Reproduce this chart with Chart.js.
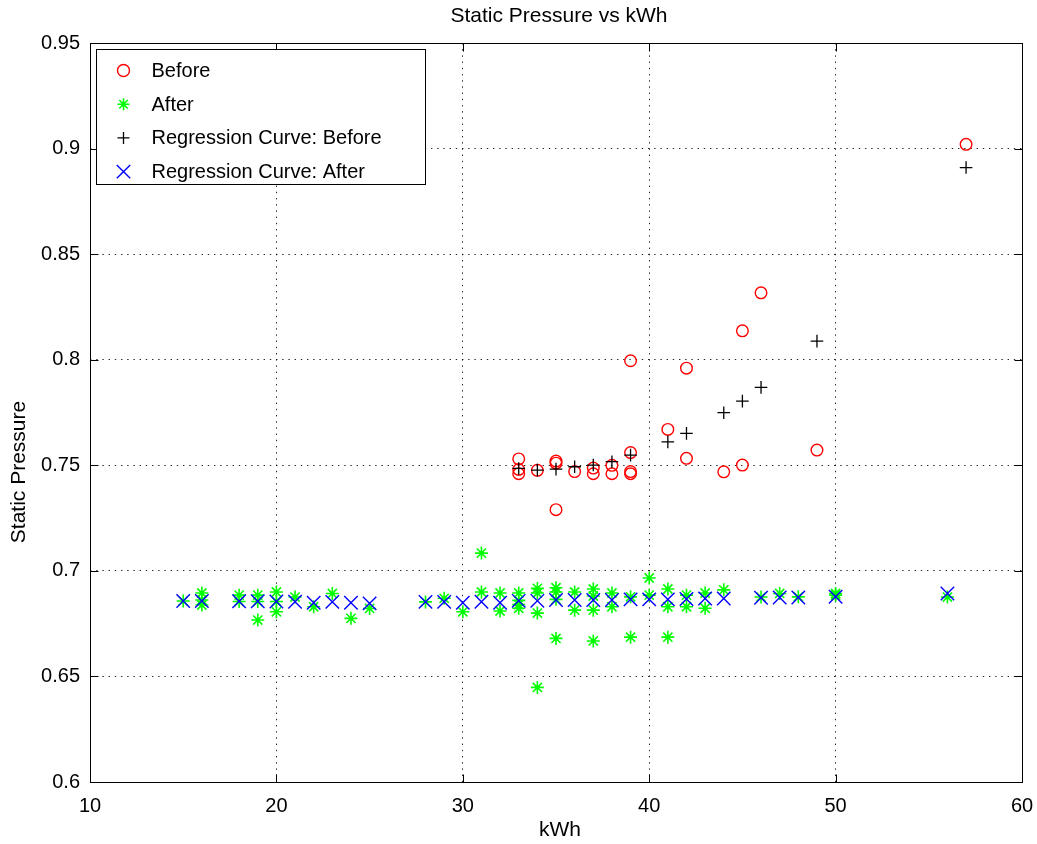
<!DOCTYPE html>
<html>
<head>
<meta charset="utf-8">
<title>Static Pressure vs kWh</title>
<script src="https://cdn.jsdelivr.net/npm/chart.js@4.4.1/dist/chart.umd.min.js"></script>
<style>
  html, body { margin: 0; padding: 0; background: #fff; }
  #wrap { width: 1037px; height: 844px; }
</style>
</head>
<body>
<div id="wrap"><canvas id="myChart" width="1037" height="844"></canvas></div>
<script>
// measured data: kWh vs static pressure
const kwhBefore = [33, 33, 33, 34, 35, 35, 35, 36, 37, 37, 38, 38, 39, 39, 39, 39, 41, 42, 42, 44, 45, 45, 46, 49, 57];
const spBefore = [0.753, 0.748, 0.746, 0.7476, 0.752, 0.751, 0.729, 0.747, 0.7487, 0.746, 0.75, 0.746, 0.7995, 0.756, 0.747, 0.746, 0.767, 0.796, 0.7533, 0.7469, 0.8137, 0.7501, 0.8317, 0.7572, 0.902];

const kwhAfter = [15, 16, 16, 16, 18, 18, 19, 19, 19, 20, 20, 20, 21, 22, 23, 24, 25, 28, 29, 30, 31, 31, 32, 32, 33, 33, 33, 33, 34, 34, 34, 34, 35, 35, 35, 35, 36, 36, 37, 37, 37, 37, 38, 38, 39, 39, 40, 40, 41, 41, 41, 42, 42, 43, 43, 44, 46, 47, 48, 50, 50, 56];
const spAfter = [0.6857, 0.6895, 0.6838, 0.6862, 0.6885, 0.6855, 0.6885, 0.6767, 0.6855, 0.69, 0.6855, 0.6806, 0.6876, 0.683, 0.6893, 0.6775, 0.6822, 0.6853, 0.687, 0.6806, 0.7084, 0.69, 0.6895, 0.681, 0.6895, 0.686, 0.684, 0.6823, 0.6917, 0.6895, 0.68, 0.6448, 0.692, 0.69, 0.6865, 0.668, 0.69, 0.6814, 0.6914, 0.6881, 0.6814, 0.6668, 0.6895, 0.683, 0.6877, 0.6686, 0.6966, 0.6885, 0.6914, 0.683, 0.6686, 0.6885, 0.683, 0.6895, 0.6823, 0.691, 0.6876, 0.6893, 0.6877, 0.6893, 0.6885, 0.6876];

const kwhRegBefore = [33, 34, 35, 36, 37, 38, 39, 41, 42, 44, 45, 46, 49, 57];
const spRegBefore = [0.7485, 0.7477, 0.7482, 0.7493, 0.7501, 0.7517, 0.7548, 0.7611, 0.7651, 0.7749, 0.7804, 0.7869, 0.8088, 0.891];

const kwhRegAfter = [15, 16, 18, 19, 20, 21, 22, 23, 24, 25, 28, 29, 30, 31, 32, 33, 34, 35, 36, 37, 38, 39, 40, 41, 42, 43, 44, 46, 47, 48, 50, 56];
const spRegAfter = [0.6857, 0.6857, 0.6856, 0.6856, 0.6855, 0.6854, 0.6849, 0.6853, 0.6849, 0.6846, 0.6853, 0.6853, 0.6849, 0.6854, 0.6849, 0.6858, 0.6858, 0.6862, 0.6862, 0.6862, 0.6862, 0.6865, 0.6865, 0.6865, 0.6867, 0.6869, 0.6869, 0.6873, 0.6874, 0.6874, 0.6877, 0.6893];

const xTicks = [10, 20, 30, 40, 50, 60];
const yTicks = [0.6, 0.65, 0.7, 0.75, 0.8, 0.85, 0.9, 0.95];

const FONT = '"Liberation Sans", Arial, Helvetica, sans-serif';

const toPoints = (xs, ys) => xs.map((x, i) => ({ x: x, y: ys[i] }));

// legend sample marks (not data)
function drawMark(ctx, style, x, y, r) {
  ctx.beginPath();
  if (style === "circle") {
    ctx.arc(x, y, r, 0, Math.PI * 2);
  } else if (style === "cross") {
    ctx.moveTo(x - r, y); ctx.lineTo(x + r, y);
    ctx.moveTo(x, y - r); ctx.lineTo(x, y + r);
  } else if (style === "crossRot") {
    const d = r * Math.SQRT1_2;
    ctx.moveTo(x - d, y - d); ctx.lineTo(x + d, y + d);
    ctx.moveTo(x - d, y + d); ctx.lineTo(x + d, y - d);
  } else if (style === "star") {
    const d = r * Math.SQRT1_2;
    ctx.moveTo(x - r, y); ctx.lineTo(x + r, y);
    ctx.moveTo(x, y - r); ctx.lineTo(x, y + r);
    ctx.moveTo(x - d, y - d); ctx.lineTo(x + d, y + d);
    ctx.moveTo(x - d, y + d); ctx.lineTo(x + d, y - d);
  }
  ctx.stroke();
}

const matlabFrame = {
  id: "matlabFrame",
  afterDraw(chart) {
    const ctx = chart.ctx;
    const a = chart.chartArea;
    const xs = chart.scales.x;
    const ys = chart.scales.y;
    ctx.save();

    // box
    ctx.strokeStyle = "#000";
    ctx.lineWidth = 1;
    const L = Math.round(a.left) + 0.5, R = Math.round(a.right) + 0.5;
    const T = Math.round(a.top) + 0.5, B = Math.round(a.bottom) + 0.5;
    ctx.strokeRect(L, T, R - L, B - T);

    // inward ticks
    const tl = 8;
    ctx.beginPath();
    xTicks.forEach((v) => {
      const px = Math.round(xs.getPixelForValue(v)) + 0.5;
      ctx.moveTo(px, B); ctx.lineTo(px, B - tl);
      ctx.moveTo(px, T); ctx.lineTo(px, T + tl);
    });
    yTicks.forEach((v) => {
      const py = Math.round(ys.getPixelForValue(v)) + 0.5;
      ctx.moveTo(L, py); ctx.lineTo(L + tl, py);
      ctx.moveTo(R, py); ctx.lineTo(R - tl, py);
    });
    ctx.stroke();

    // titles
    ctx.fillStyle = "#000";
    ctx.textAlign = "center";
    ctx.textBaseline = "middle";
    ctx.font = "21px " + FONT;
    ctx.fillText("Static Pressure vs kWh", 559, 16);
    ctx.fillText("kWh", 560, 830);
    ctx.save();
    ctx.translate(19, 472);
    ctx.rotate(-Math.PI / 2);
    ctx.fillText("Static Pressure", 0, 0);
    ctx.restore();

    // legend
    const lx = Math.round(a.left) + 6.5, ly = Math.round(a.top) + 6.5;
    const lw = 329, lh = 135;
    ctx.fillStyle = "#fff";
    ctx.fillRect(lx, ly, lw, lh);
    ctx.strokeStyle = "#000";
    ctx.strokeRect(lx, ly, lw, lh);
    ctx.font = "20px " + FONT;
    ctx.textAlign = "left";
    chart.data.datasets.forEach((ds, i) => {
      const cy = ly + 21 + i * 33.7;
      ctx.strokeStyle = ds.borderColor;
      ctx.lineWidth = ds.pointBorderWidth;
      drawMark(ctx, ds.pointStyle, lx + 27, cy, ds.pointStyle === "crossRot" ? 9.5 : 6);
      ctx.fillStyle = "#000";
      ctx.fillText(ds.label, lx + 55, cy + 1);
    });

    ctx.restore();
  },
};

const config = {
  type: "scatter",
  data: {
    datasets: [
      {
        label: "Before",
        data: toPoints(kwhBefore, spBefore),
        pointStyle: "circle",
        pointRadius: 5.8,
        borderColor: "#ff0000",
        backgroundColor: "rgba(0,0,0,0)",
        pointBorderWidth: 1.4,
        order: 4,
      },
      {
        label: "After",
        data: toPoints(kwhAfter, spAfter),
        pointStyle: "star",
        pointRadius: 6.5,
        borderColor: "#00ff00",
        backgroundColor: "#00ff00",
        pointBorderWidth: 1.6,
        order: 3,
      },
      {
        label: "Regression Curve: Before",
        data: toPoints(kwhRegBefore, spRegBefore),
        pointStyle: "cross",
        pointRadius: 6.3,
        borderColor: "#000000",
        backgroundColor: "#000000",
        pointBorderWidth: 1.3,
        order: 2,
      },
      {
        label: "Regression Curve: After",
        data: toPoints(kwhRegAfter, spRegAfter),
        pointStyle: "crossRot",
        pointRadius: 9.5,
        borderColor: "#0000ff",
        backgroundColor: "#0000ff",
        pointBorderWidth: 1.4,
        order: 1,
      },
    ],
  },
  options: {
    responsive: false,
    animation: false,
    layout: { padding: { top: 43, right: 15, left: 0, bottom: 0 } },
    plugins: {
      legend: { display: false },
      title: { display: false },
      tooltip: { enabled: false },
    },
    scales: {
      x: {
        type: "linear",
        min: 10,
        max: 60,
        afterFit: (scale) => {
          scale.height = 62;
          scale.paddingLeft = 0;
          scale.paddingRight = 0;
        },
        afterBuildTicks: (scale) => { scale.ticks = xTicks.map((v) => ({ value: v })); },
        ticks: {
          color: "#000",
          font: { family: FONT, size: 20 },
          padding: 12,
          maxRotation: 0,
          callback: (v) => String(v),
        },
        grid: { color: "rgba(0,0,0,0.85)", lineWidth: 1, drawTicks: false },
        border: { display: false, dash: [1.4, 4.8] },
      },
      y: {
        type: "linear",
        min: 0.6,
        max: 0.95,
        afterFit: (scale) => {
          scale.width = 90;
          scale.paddingTop = 0;
          scale.paddingBottom = 0;
        },
        afterBuildTicks: (scale) => { scale.ticks = yTicks.map((v) => ({ value: v })); },
        ticks: {
          color: "#000",
          font: { family: FONT, size: 20 },
          padding: 10,
          callback: (v) => String(Math.round(v * 100) / 100),
        },
        grid: { color: "rgba(0,0,0,0.85)", lineWidth: 1, drawTicks: false },
        border: { display: false, dash: [1.4, 4.8] },
      },
    },
  },
  plugins: [matlabFrame],
};

let myChart = new Chart(document.getElementById("myChart"), config);
</script>
</body>
</html>
